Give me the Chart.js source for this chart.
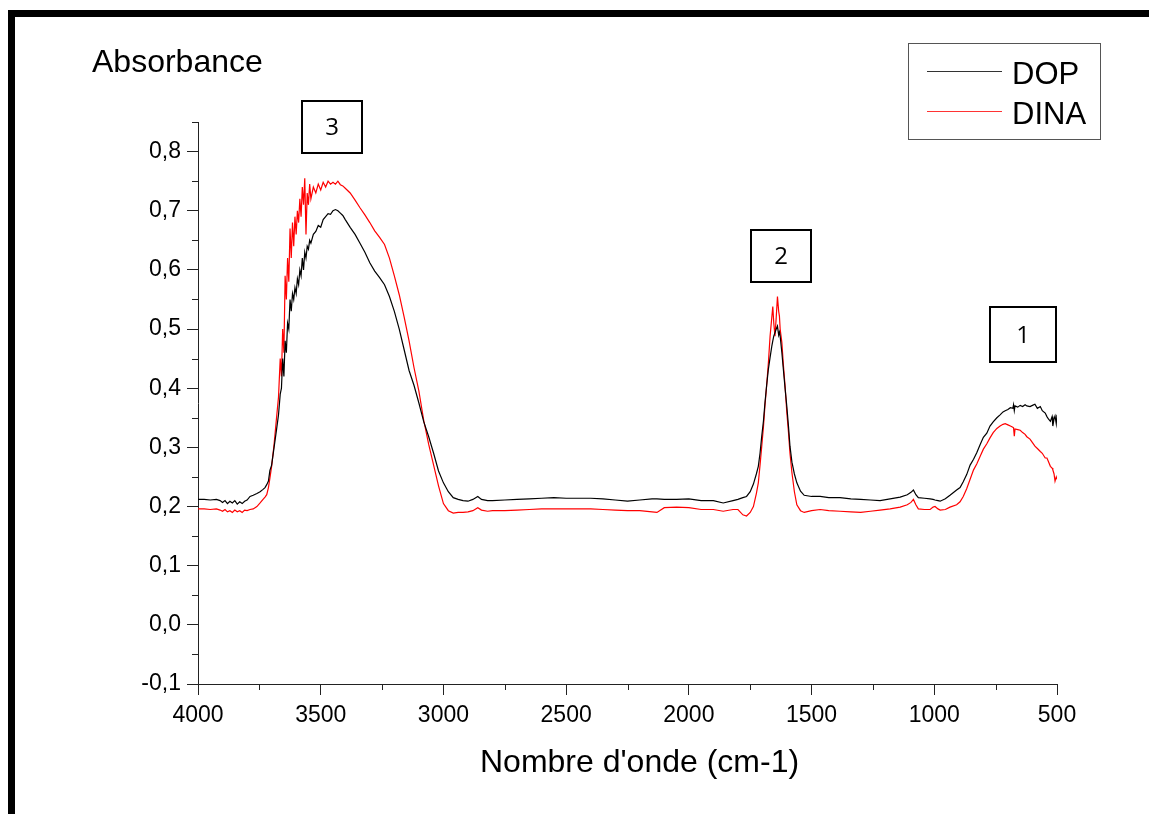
<!DOCTYPE html>
<html>
<head>
<meta charset="utf-8">
<script src="https://cdn.jsdelivr.net/npm/chart.js@4/dist/chart.umd.min.js"></script>
<style>
  html, body { margin: 0; padding: 0; background: #fff; }
  #wrap { width: 1149px; height: 814px; }
</style>
</head>
<body>
<div id="wrap"><canvas id="irChart" width="1149" height="814"></canvas></div>
<script>
// wavenumbers (cm-1) and absorbance
const wavenumbers = [
  4000, 3975, 3950, 3925, 3910, 3900, 3890, 3880, 3870, 3860, 3850, 3840, 3830, 3820, 3810, 3800,
  3788, 3775, 3760, 3747, 3735, 3727, 3720, 3713, 3707, 3700, 3690, 3680, 3672, 3665, 3660, 3655,
  3650, 3645, 3640, 3635, 3630, 3625, 3620, 3615, 3610, 3605, 3600, 3595, 3590, 3585, 3580, 3575,
  3570, 3565, 3560, 3555, 3550, 3545, 3540, 3530, 3520, 3510, 3500, 3490, 3480, 3470, 3460, 3450,
  3440, 3430, 3420, 3410, 3400, 3380, 3360, 3340, 3320, 3300, 3280, 3260, 3240, 3220, 3200, 3180,
  3160, 3140, 3120, 3100, 3080, 3060, 3040, 3020, 3000, 2980, 2960, 2940, 2920, 2900, 2880, 2860,
  2845, 2820, 2800, 2750, 2700, 2650, 2600, 2550, 2500, 2450, 2400, 2350, 2300, 2250, 2200, 2150,
  2130, 2100, 2050, 2000, 1950, 1900, 1860, 1820, 1800, 1780, 1765, 1750, 1737, 1725, 1717, 1710,
  1703, 1696, 1690, 1683, 1676, 1669, 1662, 1658, 1654, 1649, 1644, 1639, 1634, 1631, 1628, 1621,
  1615, 1608, 1601, 1594, 1588, 1580, 1570, 1560, 1545, 1530, 1500, 1465, 1430, 1384, 1340, 1300,
  1260, 1221, 1180, 1139, 1110, 1095, 1085, 1075, 1065, 1040, 1017, 1005, 997, 985, 976, 955,
  936, 909, 895, 882, 868, 854, 840, 827, 813, 800, 786, 773, 760, 745, 732, 720,
  711, 700, 690, 680, 677, 674, 671, 660, 650, 640, 630, 623, 610, 600, 590, 580,
  568, 560, 548, 541, 535, 527, 520, 517, 512, 508, 503, 500
];

const dop = [
  0.212, 0.212, 0.211, 0.212, 0.210, 0.207, 0.210, 0.205, 0.209, 0.206, 0.210, 0.204, 0.208, 0.205, 0.209, 0.211,
  0.217, 0.219, 0.222, 0.225, 0.229, 0.232, 0.237, 0.243, 0.261, 0.270, 0.300, 0.330, 0.355, 0.390, 0.400, 0.450,
  0.420, 0.480, 0.460, 0.510, 0.500, 0.550, 0.530, 0.560, 0.550, 0.570, 0.560, 0.585, 0.575, 0.600, 0.590, 0.620,
  0.600, 0.630, 0.620, 0.640, 0.635, 0.650, 0.645, 0.660, 0.665, 0.675, 0.672, 0.685, 0.690, 0.695, 0.694, 0.700,
  0.702, 0.700, 0.696, 0.692, 0.685, 0.672, 0.660, 0.645, 0.630, 0.612, 0.598, 0.587, 0.575, 0.555, 0.530, 0.500,
  0.465, 0.430, 0.405, 0.375, 0.343, 0.318, 0.290, 0.260, 0.240, 0.225, 0.215, 0.212, 0.210, 0.209, 0.212, 0.217,
  0.212, 0.210, 0.210, 0.211, 0.212, 0.213, 0.214, 0.215, 0.214, 0.214, 0.214, 0.213, 0.211, 0.209, 0.211, 0.213,
  0.213, 0.212, 0.212, 0.213, 0.210, 0.210, 0.206, 0.210, 0.212, 0.215, 0.217, 0.225, 0.238, 0.255, 0.268, 0.290,
  0.319, 0.345, 0.375, 0.405, 0.432, 0.452, 0.471, 0.480, 0.488, 0.494, 0.500, 0.505, 0.490, 0.495, 0.488, 0.460,
  0.432, 0.400, 0.370, 0.335, 0.302, 0.275, 0.255, 0.240, 0.226, 0.219, 0.217, 0.217, 0.215, 0.215, 0.213, 0.212,
  0.211, 0.210, 0.213, 0.216, 0.220, 0.224, 0.228, 0.220, 0.215, 0.214, 0.213, 0.212, 0.211, 0.210, 0.209, 0.213,
  0.219, 0.228, 0.232, 0.242, 0.254, 0.270, 0.280, 0.291, 0.305, 0.317, 0.324, 0.336, 0.343, 0.350, 0.355, 0.360,
  0.362, 0.364, 0.367, 0.366, 0.372, 0.362, 0.370, 0.368, 0.371, 0.369, 0.372, 0.370, 0.369, 0.371, 0.373, 0.366,
  0.369, 0.362, 0.358, 0.352, 0.348, 0.344, 0.352, 0.336, 0.348, 0.353, 0.340, 0.355
];

const dina = [
  0.196, 0.196, 0.195, 0.196, 0.194, 0.192, 0.195, 0.191, 0.193, 0.190, 0.194, 0.191, 0.193, 0.190, 0.194, 0.193,
  0.195, 0.196, 0.200, 0.206, 0.212, 0.216, 0.220, 0.232, 0.248, 0.268, 0.305, 0.350, 0.385, 0.450, 0.420, 0.500,
  0.460, 0.590, 0.550, 0.620, 0.580, 0.670, 0.620, 0.680, 0.640, 0.690, 0.660, 0.700, 0.680, 0.720, 0.690, 0.740,
  0.710, 0.755, 0.660, 0.730, 0.710, 0.745, 0.720, 0.740, 0.730, 0.745, 0.735, 0.748, 0.740, 0.750, 0.745, 0.748,
  0.745, 0.750, 0.744, 0.742, 0.738, 0.730, 0.718, 0.705, 0.693, 0.680, 0.666, 0.655, 0.643, 0.620, 0.590, 0.558,
  0.520, 0.480, 0.435, 0.395, 0.345, 0.305, 0.270, 0.235, 0.205, 0.193, 0.189, 0.190, 0.190, 0.191, 0.193, 0.198,
  0.194, 0.192, 0.193, 0.193, 0.194, 0.195, 0.196, 0.196, 0.196, 0.196, 0.196, 0.195, 0.194, 0.193, 0.193, 0.191,
  0.190, 0.198, 0.199, 0.198, 0.195, 0.195, 0.192, 0.195, 0.195, 0.186, 0.184, 0.190, 0.200, 0.222, 0.240, 0.270,
  0.302, 0.335, 0.370, 0.405, 0.443, 0.488, 0.520, 0.538, 0.510, 0.488, 0.520, 0.555, 0.530, 0.522, 0.500, 0.477,
  0.440, 0.404, 0.360, 0.325, 0.290, 0.257, 0.225, 0.203, 0.193, 0.190, 0.193, 0.195, 0.193, 0.192, 0.191, 0.190,
  0.192, 0.194, 0.196, 0.199, 0.203, 0.207, 0.212, 0.203, 0.196, 0.195, 0.195, 0.199, 0.200, 0.196, 0.194, 0.195,
  0.199, 0.203, 0.208, 0.217, 0.230, 0.246, 0.262, 0.272, 0.285, 0.297, 0.306, 0.316, 0.325, 0.332, 0.336, 0.339,
  0.340, 0.338, 0.336, 0.334, 0.333, 0.319, 0.331, 0.330, 0.329, 0.325, 0.322, 0.318, 0.314, 0.308, 0.302, 0.298,
  0.293, 0.290, 0.282, 0.282, 0.276, 0.268, 0.265, 0.262, 0.255, 0.243, 0.250, 0.246
];

const seriesNames = ['DOP', 'DINA'];
const seriesColors = ['#000000', '#ff0000'];
const yTitle = 'Absorbance';
const xTitle = "Nombre d'onde (cm-1)";
const bandLabels = ['3', '2', '1'];
const bandCentres = [3454, 1624, 638];   // wavenumber the boxed label sits over
const bandHeights = [0.842, 0.623, 0.490]; // absorbance of the box centre

const toPoints = vals => wavenumbers.map((w, i) => ({ x: w, y: vals[i] }));
const fontMain = '"Liberation Sans", Arial, sans-serif';

const decor = {
  id: 'decor',
  beforeDraw(chart) {
    const c = chart.ctx;
    c.save();
    c.fillStyle = '#fff';
    c.fillRect(0, 0, chart.width, chart.height);
    // thick frame on top and left
    c.fillStyle = '#000';
    c.fillRect(8, 10, 1141, 7);
    c.fillRect(8, 10, 7, 804);
    c.restore();
  },
  afterDraw(chart) {
    const c = chart.ctx;
    const xs = chart.scales.x, ys = chart.scales.y;
    const a = chart.chartArea;
    c.save();
    // minor ticks
    c.strokeStyle = '#222';
    c.lineWidth = 1;
    c.beginPath();
    for (let w = 3750; w > 500; w -= 500) {
      const px = Math.round(xs.getPixelForValue(w)) + 0.5;
      c.moveTo(px, a.bottom); c.lineTo(px, a.bottom + 6);
    }
    for (let k = -1; k <= 17; k += 2) {
      const py = Math.round(ys.getPixelForValue(k * 0.05)) + 0.5;
      c.moveTo(a.left, py); c.lineTo(a.left - 6, py);
    }
    c.stroke();

    // titles
    c.fillStyle = '#000';
    c.textBaseline = 'alphabetic';
    c.textAlign = 'left';
    c.font = '32px ' + fontMain;
    c.fillText(yTitle, 92, 72);
    c.fillText(xTitle, 480, 772);

    // legend box
    c.strokeStyle = '#555';
    c.strokeRect(908.5, 43.5, 192, 96);
    const legY = [71, 111];
    const legBase = [84, 124];
    seriesNames.forEach((n, i) => {
      c.strokeStyle = i === 0 ? '#333' : '#f33';
      c.beginPath();
      c.moveTo(927, legY[i] + 0.5); c.lineTo(1002, legY[i] + 0.5);
      c.stroke();
      c.fillStyle = '#000';
      c.font = '31px ' + fontMain;
      c.fillText(n, 1012, legBase[i]);
    });

    // boxed band numbers
    c.lineWidth = 2;
    c.strokeStyle = '#000';
    c.font = '24px "Open Sans", sans-serif';
    c.textAlign = 'center';
    c.textBaseline = 'middle';
    bandLabels.forEach((t, i) => {
      const cx = xs.getPixelForValue(bandCentres[i]);
      const cy = ys.getPixelForValue(bandHeights[i]);
      const w = i === 2 ? 66 : 60, h = i === 2 ? 55 : 52;
      c.strokeRect(Math.round(cx - w / 2), Math.round(cy - h / 2), w, h);
      c.fillText(t, cx, cy + 1);
    });
    c.restore();
  }
};

const ctx = document.getElementById('irChart').getContext('2d');
const irChart = new Chart(ctx, {
  type: 'line',
  data: {
    datasets: [{
      label: seriesNames[0],
      data: toPoints(dop),
      borderColor: seriesColors[0],
      borderWidth: 1.2,
      pointRadius: 0,
      tension: 0,
      fill: false
    }, {
      label: seriesNames[1],
      data: toPoints(dina),
      borderColor: seriesColors[1],
      borderWidth: 1.2,
      pointRadius: 0,
      tension: 0,
      fill: false
    }]
  },
  options: {
    responsive: false,
    animation: false,
    devicePixelRatio: 1,
    layout: { padding: { left: 108, right: 92, top: 122, bottom: 90 } },
    plugins: { legend: { display: false }, tooltip: { enabled: false } },
    scales: {
      x: {
        type: 'linear',
        reverse: true,
        min: 500,
        max: 4000,
        afterFit(s) { s.height = 40; },
        grid: { display: true, drawOnChartArea: false, tickLength: 11, tickColor: '#222' },
        border: { display: true, color: '#222', width: 1 },
        ticks: {
          stepSize: 500,
          includeBounds: false,
          maxRotation: 0,
          autoSkip: false,
          padding: 7,
          color: '#000',
          font: { family: fontMain, size: 23 },
          callback: v => String(v)
        }
      },
      y: {
        type: 'linear',
        min: -0.1,
        max: 0.85,
        afterFit(s) { s.width = 90; },
        grid: { display: true, drawOnChartArea: false, tickLength: 11, tickColor: '#222' },
        border: { display: true, color: '#222', width: 1 },
        ticks: {
          stepSize: 0.1,
          includeBounds: false,
          padding: 6,
          color: '#000',
          font: { family: fontMain, size: 23 },
          callback: v => v.toFixed(1).replace('.', ',')
        }
      }
    }
  },
  plugins: [decor]
});
</script>
</body>
</html>
